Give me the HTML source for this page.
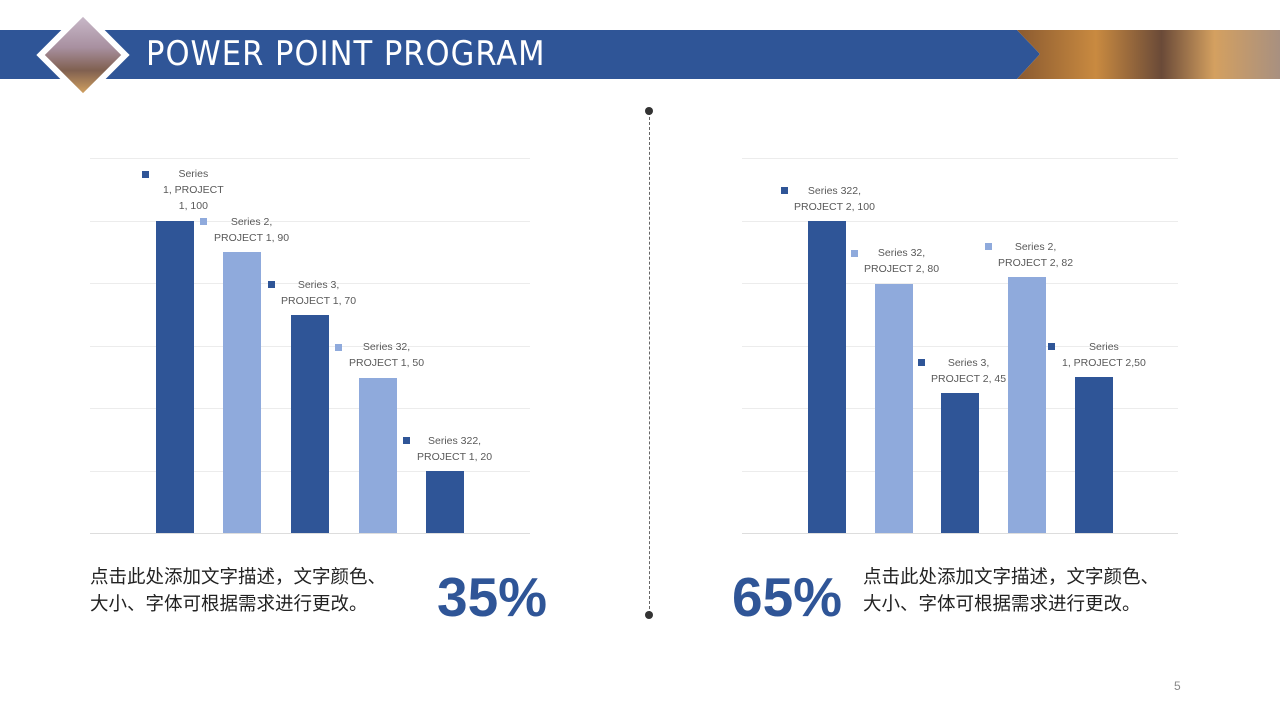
<!DOCTYPE html>
<html><head><meta charset="utf-8"><style>
body{margin:0;width:1280px;height:720px;background:#fff;position:relative;overflow:hidden;font-family:"Liberation Sans","Noto Sans CJK SC",sans-serif}
.a{position:absolute}
.g{position:absolute;height:1px;background:#ececec}
.b{position:absolute;width:38px;bottom:187px}
.d{background:#2f5597}.l{background:#8faadc}
.lab{position:absolute;font-size:10.5px;color:#595959;line-height:16px;text-align:center;white-space:nowrap}
.m{position:absolute;width:7px;height:7px}
.txt{position:absolute;font-size:18.5px;color:#222;line-height:27px;white-space:nowrap}
.pct{position:absolute;font-size:55px;font-weight:bold;color:#2f5597;line-height:60px}
</style></head><body>
<div class="a" style="left:0;top:30px;width:1040px;height:49px;background:#2f5597;clip-path:polygon(0 0,1017px 0,1040px 24px,1017px 49px,0 49px)"></div>
<div class="a" style="left:1017px;top:30px;width:263px;height:49px;background:linear-gradient(90deg,#8a5a30,#c98a40 30%,#6a4a38 55%,#d4a060 75%,#a89080);clip-path:polygon(0 0,100% 0,100% 100%,0 100%,23px 24px)"></div>
<div class="a" style="left:50px;top:22px;width:66px;height:66px;transform:rotate(45deg);background:#fff"></div>
<div class="a" style="left:56px;top:28px;width:54px;height:54px;transform:rotate(45deg);background:linear-gradient(135deg,#c8b8c8,#a890a0 40%,#806050 70%,#d0a060)"></div>
<div class="a" style="left:146px;top:33px;font-size:34px;letter-spacing:1px;color:#fff;line-height:42px;font-family:'DejaVu Sans Condensed','DejaVu Sans',sans-serif;font-stretch:condensed">POWER POINT PROGRAM</div>

<div class="g" style="left:90px;width:440px;top:158px"></div><div class="g" style="left:90px;width:440px;top:221px"></div><div class="g" style="left:90px;width:440px;top:283px"></div><div class="g" style="left:90px;width:440px;top:346px"></div><div class="g" style="left:90px;width:440px;top:408px"></div><div class="g" style="left:90px;width:440px;top:471px"></div><div class="g" style="left:90px;width:440px;top:533px;background:#ddd"></div>
<div class="g" style="left:742px;width:436px;top:158px"></div><div class="g" style="left:742px;width:436px;top:221px"></div><div class="g" style="left:742px;width:436px;top:283px"></div><div class="g" style="left:742px;width:436px;top:346px"></div><div class="g" style="left:742px;width:436px;top:408px"></div><div class="g" style="left:742px;width:436px;top:471px"></div><div class="g" style="left:742px;width:436px;top:533px;background:#ddd"></div>

<div class="b d" style="left:156px;top:221px"></div>
<div class="b l" style="left:223px;top:252px"></div>
<div class="b d" style="left:291px;top:315px"></div>
<div class="b l" style="left:359px;top:378px"></div>
<div class="b d" style="left:426px;top:471px"></div>
<div class="b d" style="left:808px;top:221px"></div>
<div class="b l" style="left:875px;top:284px"></div>
<div class="b d" style="left:941px;top:393px"></div>
<div class="b l" style="left:1008px;top:277px"></div>
<div class="b d" style="left:1075px;top:377px"></div>

<div class="m d" style="left:142px;top:171px"></div><div class="lab" style="left:163px;top:166px">Series<br>1, PROJECT<br>1, 100</div>
<div class="m l" style="left:200px;top:218px"></div><div class="lab" style="left:214px;top:214px">Series 2,<br>PROJECT 1, 90</div>
<div class="m d" style="left:268px;top:281px"></div><div class="lab" style="left:281px;top:277px">Series 3,<br>PROJECT 1, 70</div>
<div class="m l" style="left:335px;top:344px"></div><div class="lab" style="left:349px;top:339px">Series 32,<br>PROJECT 1, 50</div>
<div class="m d" style="left:403px;top:437px"></div><div class="lab" style="left:417px;top:433px">Series 322,<br>PROJECT 1, 20</div>

<div class="m d" style="left:781px;top:187px"></div><div class="lab" style="left:794px;top:183px">Series 322,<br>PROJECT 2, 100</div>
<div class="m l" style="left:851px;top:250px"></div><div class="lab" style="left:864px;top:245px">Series 32,<br>PROJECT 2, 80</div>
<div class="m d" style="left:918px;top:359px"></div><div class="lab" style="left:931px;top:355px">Series 3,<br>PROJECT 2, 45</div>
<div class="m l" style="left:985px;top:243px"></div><div class="lab" style="left:998px;top:239px">Series 2,<br>PROJECT 2, 82</div>
<div class="m d" style="left:1048px;top:343px"></div><div class="lab" style="left:1062px;top:339px">Series<br>1, PROJECT 2,50</div>

<div class="a" style="left:649px;top:112px;height:502px;border-left:1px dashed #666"></div>
<div class="a" style="left:645px;top:107px;width:8px;height:8px;border-radius:50%;background:#333"></div>
<div class="a" style="left:645px;top:611px;width:8px;height:8px;border-radius:50%;background:#333"></div>

<div class="txt" style="left:90px;top:563px">点击此处添加文字描述，文字颜色、<br>大小、字体可根据需求进行更改。</div>
<div class="pct" style="left:437px;top:567px">35%</div>
<div class="pct" style="left:732px;top:567px">65%</div>
<div class="txt" style="left:863px;top:563px">点击此处添加文字描述，文字颜色、<br>大小、字体可根据需求进行更改。</div>
<div class="a" style="left:1174px;top:679px;font-size:12px;color:#888">5</div>
</body></html>
